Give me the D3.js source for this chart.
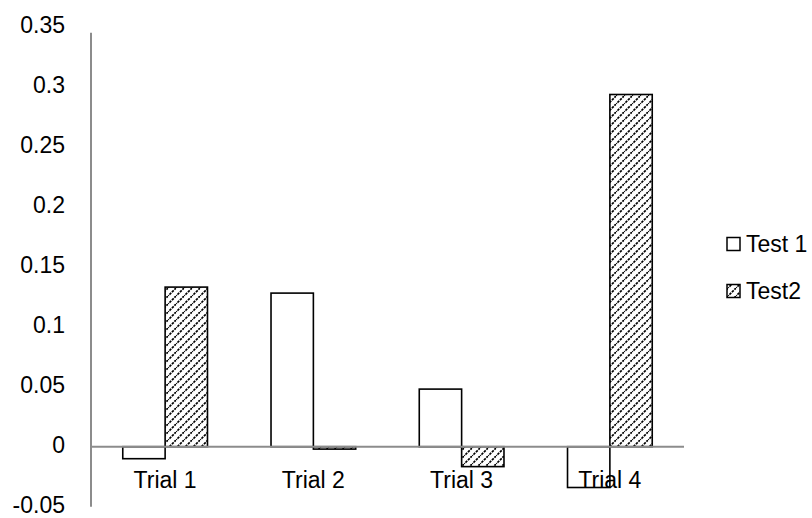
<!DOCTYPE html>
<html>
<head>
<meta charset="utf-8">
<script src="https://cdn.jsdelivr.net/npm/d3@7/dist/d3.min.js"></script>
<style>
  html, body { margin: 0; padding: 0; background: #fff; }
  svg { display: block; }
  text { font-family: "Liberation Sans", Arial, sans-serif; font-size: 23px; fill: #000; }
</style>
</head>
<body>
<svg id="chart" width="812" height="518"></svg>
<script>
const categories = ["Trial 1", "Trial 2", "Trial 3", "Trial 4"];
const seriesNames = ["Test 1", "Test2"];
const test1Values = [-0.010, 0.128, 0.048, -0.034];
const test2Values = [0.133, -0.002, -0.0166, 0.2935];
const yTicks = [-0.05, 0, 0.05, 0.1, 0.15, 0.2, 0.25, 0.3, 0.35];
const yTickLabels = ["-0.05", "0", "0.05", "0.1", "0.15", "0.2", "0.25", "0.3", "0.35"];

const seriesValues = [test1Values, test2Values];
const svg = d3.select("#chart");
const FONT = '"Liberation Sans", Arial, sans-serif';

// pattern for Test2
const defs = svg.append("defs");
const P = 8;
const pat = defs.append("pattern")
  .attr("id", "hatch")
  .attr("patternUnits", "userSpaceOnUse")
  .attr("width", P).attr("height", P);
pat.append("rect").attr("width", P).attr("height", P).attr("fill", "#fff");
pat.append("path")
  .attr("d", `M-1,${P + 1} L${P + 1},-1 M-2,2 L2,-2 M${P - 2},${P + 2} L${P + 2},${P - 2}`)
  .attr("stroke", "#000").attr("stroke-width", 1.7)
  .attr("stroke-dasharray", "2.5,1");

const plotLeft = 91, plotRight = 684;
const y = d3.scaleLinear().domain([-0.05, 0.35]).range([506.7, 26.7]);
const x = d3.scaleBand().domain(categories).range([plotLeft, plotRight]).padding(0);
const xs = d3.scaleBand().domain(seriesNames).range([0, x.bandwidth()])
  .paddingInner(0).paddingOuter(0.75);

// Y axis labels
const yAxis = d3.axisLeft(y).tickValues(yTicks).tickSize(0).tickPadding(26)
  .tickFormat(d => yTickLabels[yTicks.indexOf(d)]);
const gy = svg.append("g").attr("transform", `translate(${plotLeft},0)`).call(yAxis);
gy.select(".domain").remove();
gy.selectAll("text").style("font-family", FONT).style("font-size", "23px")
  .attr("fill", "#000").attr("dy", "0.26em");

// y axis line
svg.append("line")
  .attr("x1", plotLeft).attr("x2", plotLeft)
  .attr("y1", y(0.35) + 6).attr("y2", y(-0.05))
  .attr("stroke", "#8c8c8c").attr("stroke-width", 2);

// category labels
const xAxis = d3.axisBottom(x).tickSize(0).tickPadding(25);
const gx = svg.append("g").attr("transform", `translate(0,${y(0)})`).call(xAxis);
gx.select(".domain").remove();
gx.selectAll("text").style("font-family", FONT).style("font-size", "23px").attr("fill", "#000");

// bars
const data = [];
categories.forEach((c, i) => {
  seriesNames.forEach((s, j) => data.push({ c, s, j, v: seriesValues[j][i] }));
});
svg.append("g").selectAll("rect").data(data).join("rect")
  .attr("x", d => x(d.c) + xs(d.s))
  .attr("width", xs.bandwidth())
  .attr("y", d => y(Math.max(0, d.v)))
  .attr("height", d => Math.abs(y(d.v) - y(0)))
  .attr("fill", d => d.j === 0 ? "none" : "url(#hatch)")
  .attr("stroke", "#000").attr("stroke-width", 1.6);

// zero line
svg.append("line")
  .attr("x1", plotLeft).attr("x2", plotRight)
  .attr("y1", y(0)).attr("y2", y(0))
  .attr("stroke", "#8c8c8c").attr("stroke-width", 2);

// legend
const legendY = [244, 291];
const lg = svg.append("g");
seriesNames.forEach((s, j) => {
  lg.append("rect")
    .attr("x", 727).attr("y", legendY[j] - 6.5)
    .attr("width", 13).attr("height", 13)
    .attr("fill", j === 0 ? "#fff" : "url(#hatch)")
    .attr("stroke", "#000").attr("stroke-width", 1.5);
  lg.append("text")
    .attr("x", 746).attr("y", legendY[j])
    .attr("dy", "0.36em")
    .text(s);
});
</script>
</body>
</html>
